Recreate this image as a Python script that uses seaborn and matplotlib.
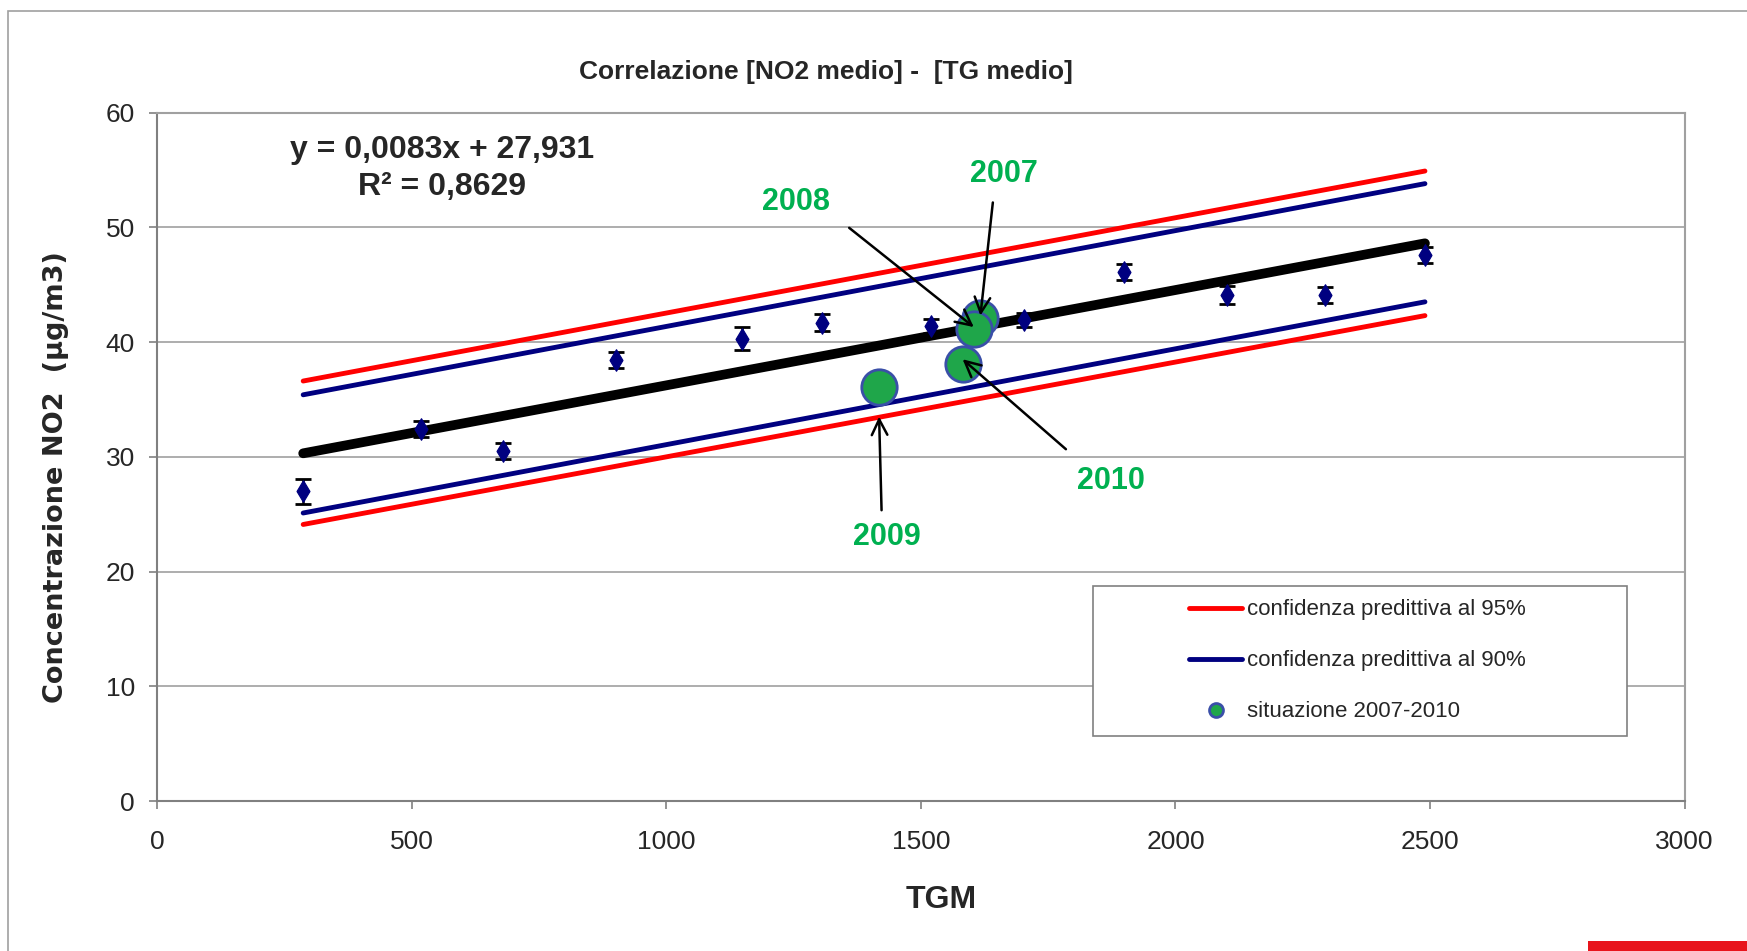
import pandas as pd
import matplotlib.pyplot as plt
import seaborn as sns
from matplotlib.patches import Rectangle

# measured stations: mean traffic (TGM) vs mean NO2
tgm = [287, 519, 680, 902, 1149, 1306, 1519, 1702, 1899, 2101, 2293, 2490]
no2 = [27.0, 32.4, 30.5, 38.4, 40.3, 41.7, 41.4, 41.9, 46.1, 44.1, 44.1, 47.6]
no2_err = [1.1, 0.7, 0.7, 0.7, 1.0, 0.7, 0.6, 0.6, 0.7, 0.8, 0.7, 0.7]

# fit and prediction bands (end points)
band_x = [287, 2490]
fit_y = [30.3, 48.6]
red_up = [36.6, 54.9]
red_lo = [24.1, 42.3]
blue_up = [35.4, 53.8]
blue_lo = [25.1, 43.5]

# situazione 2007-2010
years = ['2007', '2008', '2009', '2010']
yr_tgm = [1617, 1604, 1418, 1582]
yr_no2 = [42.1, 41.1, 36.1, 38.1]
label_pos = [(1664, 54.6), (1254, 52.2), (1433, 23.0), (1873, 27.9)]
arrow_start = [(1642, 52.4), (1355, 50.1), (1423, 25.1), (1789, 30.5)]

sns.set_style('white')
plt.rcParams['font.family'] = ['Liberation Sans', 'DejaVu Sans']

fig = plt.figure(figsize=(17.47, 9.51), dpi=100)
ax = fig.add_axes([0.0899, 0.1577, 0.8744, 0.724])

# outer chart frame and red corner mark
fig.patches.append(Rectangle((0.0045, -0.02), 1.2, 1.008, transform=fig.transFigure,
                             fill=False, edgecolor='#a0a0a0', lw=1.2))
fig.patches.append(Rectangle((0.909, 0.0), 0.1, 0.011, transform=fig.transFigure,
                             color='#e8141c', lw=0))

bands = pd.DataFrame({'x': band_x * 4,
                      'y': red_up + red_lo + blue_up + blue_lo,
                      'band': ['r1'] * 2 + ['r2'] * 2 + ['b1'] * 2 + ['b2'] * 2})
pal = {'r1': '#ff0000', 'r2': '#ff0000', 'b1': '#000080', 'b2': '#000080'}
sns.lineplot(data=bands, x='x', y='y', hue='band', palette=pal, lw=3.5,
             legend=False, ax=ax, solid_capstyle='round')
sns.lineplot(x=band_x, y=fit_y, color='black', lw=7, ax=ax, solid_capstyle='round')

ax.errorbar(tgm, no2, yerr=no2_err, fmt='none', ecolor='black', elinewidth=1.8,
            capsize=6, capthick=2, zorder=4)
sns.scatterplot(x=tgm, y=no2, marker='d', s=120, color='#000080',
                edgecolor='#000080', ax=ax, zorder=5)

sns.scatterplot(x=yr_tgm, y=yr_no2, s=650, color='#1fa64a', edgecolor='#3a4fa8',
                linewidth=2, ax=ax, zorder=6)

for yr, px, py, lp, st in zip(years, yr_tgm, yr_no2, label_pos, arrow_start):
    ax.text(lp[0], lp[1], yr, color='#00b050', fontsize=22, fontweight='bold',
            ha='center', va='center', zorder=7)
    ax.annotate('', xy=(px, py + (0.4 if py < 40 else 0.2)) if yr != '2009' else (px, py - 2.6),
                xytext=st,
                arrowprops=dict(arrowstyle='->', color='black', lw=1.8,
                                mutation_scale=28, shrinkB=0), zorder=7)

ax.text(560, 56.7, 'y = 0,0083x + 27,931', fontsize=23, fontweight='bold', ha='center', va='center')
ax.text(560, 53.5, 'R² = 0,8629', fontsize=23, fontweight='bold', ha='center', va='center')

ax.set_xlim(0, 3000)
ax.set_ylim(0, 60)
ax.set_xticks(range(0, 3001, 500))
ax.set_yticks(range(0, 61, 10))
ax.set_xlabel('')
ax.set_ylabel('')
ax.yaxis.grid(True, color='#a0a0a0', lw=1.2)
ax.xaxis.grid(False)
ax.tick_params(axis='both', labelsize=19, direction='out', length=6, width=1.2,
               color='#808080', left=True, bottom=True)
ax.tick_params(axis='x', pad=15)
ax.tick_params(axis='y', pad=10)
for side in ['left', 'bottom']:
    ax.spines[side].set_color('#808080')
    ax.spines[side].set_linewidth(1.5)
for side in ['top', 'right']:
    ax.spines[side].set_color('#a0a0a0')
    ax.spines[side].set_linewidth(1.5)

fig.text(0.4726, 0.924, 'Correlazione [NO2 medio] -  [TG medio]', fontsize=19,
         fontweight='bold', ha='center', va='center')
fig.text(0.539, 0.054, 'TGM', fontsize=23, fontweight='bold', ha='center', va='center')
fig.text(0.0319, 0.498, 'Concentrazione NO2  (µg/m3)', fontsize=19.5, fontweight='bold',
         family='DejaVu Sans', rotation=90, ha='center', va='center')

# legend box drawn separately so that the entries sit indented as in the original
ax.add_patch(Rectangle((0.613, 0.095), 0.349, 0.217, transform=ax.transAxes,
                       facecolor='white', edgecolor='#808080', lw=1.2, zorder=8))
handles = [plt.Line2D([], [], color='#ff0000', lw=3.5),
           plt.Line2D([], [], color='#000080', lw=3.5),
           plt.Line2D([], [], marker='o', ls='none', markersize=10,
                      markerfacecolor='#1fa64a', markeredgecolor='#3a4fa8', markeredgewidth=2)]
leg = ax.legend(handles, ['confidenza predittiva al 95%', 'confidenza predittiva al 90%',
                          'situazione 2007-2010'],
                loc='center left', bbox_to_anchor=(0.6755, 0.2035),
                fontsize=16, frameon=False, labelspacing=1.35, handlelength=2.4,
                handletextpad=0.2, borderpad=0, borderaxespad=0)
leg.set_zorder(9)

fig.savefig('out.png', dpi=100)
